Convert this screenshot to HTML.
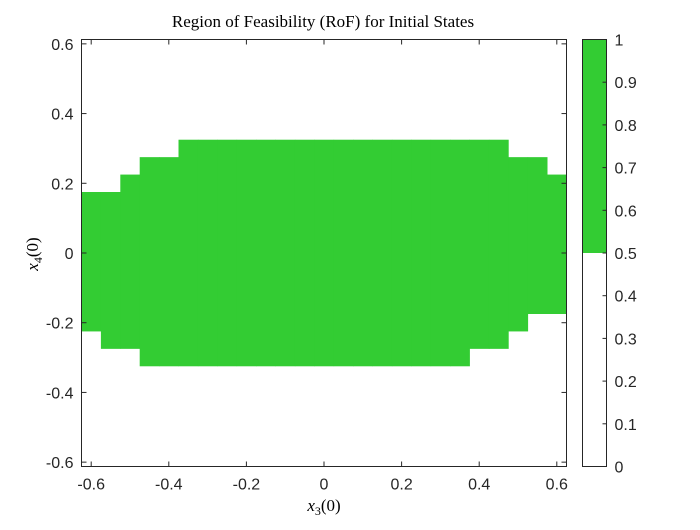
<!DOCTYPE html>
<html><head><meta charset="utf-8"><style>
body{margin:0;background:#fff;}
svg text{font-family:"Liberation Sans",sans-serif;fill:#262626;}
.serif{font-family:"Liberation Serif",serif;fill:#000;}
</style></head><body>
<svg id="chart" width="700" height="525" xmlns="http://www.w3.org/2000/svg">
<rect width="700" height="525" fill="#fff"/>
<g id="cells"></g>
<g id="axes"></g>
<g id="cbar"></g>
<text class="serif" x="323" y="27" font-size="17" text-anchor="middle">Region of Feasibility (RoF) for Initial States</text>
<text class="serif" x="324" y="511" font-size="17" text-anchor="middle" font-style="italic">x<tspan font-size="12" dy="4" font-style="normal">3</tspan><tspan dy="-4" font-style="normal">(0)</tspan></text>
<text class="serif" transform="translate(38,254) rotate(-90)" font-size="17" text-anchor="middle" font-style="italic">x<tspan font-size="12" dy="4" font-style="normal">4</tspan><tspan dy="-4" font-style="normal">(0)</tspan></text>
</svg>
<script>
const colX = [-0.6,-0.55,-0.5,-0.45,-0.4,-0.35,-0.3,-0.25,-0.2,-0.15,-0.1,-0.05,0,0.05,0.1,0.15,0.2,0.25,0.3,0.35,0.4,0.45,0.5,0.55,0.6];
const colTop = [0.175,0.175,0.225,0.275,0.275,0.325,0.325,0.325,0.325,0.325,0.325,0.325,0.325,0.325,0.325,0.325,0.325,0.325,0.325,0.325,0.325,0.325,0.275,0.275,0.225];
const colBottom = [-0.225,-0.275,-0.275,-0.325,-0.325,-0.325,-0.325,-0.325,-0.325,-0.325,-0.325,-0.325,-0.325,-0.325,-0.325,-0.325,-0.325,-0.325,-0.325,-0.325,-0.275,-0.275,-0.225,-0.175,-0.175];
const cellW = 0.05;
const xTicks = [-0.6,-0.4,-0.2,0,0.2,0.4,0.6];
const yTicks = [-0.6,-0.4,-0.2,0,0.2,0.4,0.6];
const cbTicks = [0,0.1,0.2,0.3,0.4,0.5,0.6,0.7,0.8,0.9,1];

const NS="http://www.w3.org/2000/svg";
const L=81.5,R=566.5,T=39.5,B=466.5;
const xmin=-0.625,xmax=0.625,ymin=-0.6125,ymax=0.6125;
const sx=v=>L+(v-xmin)/(xmax-xmin)*(R-L);
const sy=v=>B-(v-ymin)/(ymax-ymin)*(B-T);
function mk(tag,attrs,parent){const e=document.createElementNS(NS,tag);for(const k in attrs)e.setAttribute(k,attrs[k]);parent.appendChild(e);return e;}
const cells=document.getElementById('cells');
colX.forEach((c,i)=>{
  const x0=Math.max(sx(c-cellW/2),L), x1=Math.min(sx(c+cellW/2),R);
  const r=mk('rect',{x:x0,y:sy(colTop[i]),width:x1-x0+0.4,height:sy(colBottom[i])-sy(colTop[i]),fill:'#33cc33'},cells);
  
  
});
const ax=document.getElementById('axes');
mk('rect',{x:L,y:T,width:R-L,height:B-T,fill:'none',stroke:'#262626','stroke-width':1},ax);
xTicks.forEach(v=>{
  const x=sx(v);
  mk('line',{x1:x,x2:x,y1:B,y2:B-5,stroke:'#262626'},ax);
  mk('line',{x1:x,x2:x,y1:T,y2:T+5,stroke:'#262626'},ax);
  const t=mk('text',{x:x,y:B+23,'font-size':16,'text-anchor':'middle'},ax);
  t.textContent=String(v);
  
  
});
yTicks.forEach(v=>{
  const y=sy(v);
  mk('line',{x1:L,x2:L+5,y1:y,y2:y,stroke:'#262626'},ax);
  mk('line',{x1:R,x2:R-5,y1:y,y2:y,stroke:'#262626'},ax);
  const t=mk('text',{x:L-8,y:y+6,'font-size':16,'text-anchor':'end'},ax);
  t.textContent=String(v);
  
  
});
const cb=document.getElementById('cbar');
const CL=582.5,CR=606.5;
const cy=v=>B-v*(B-T);
mk('rect',{x:CL,y:T,width:CR-CL,height:cy(0.5)-T,fill:'#33cc33'},cb);
mk('rect',{x:CL,y:T,width:CR-CL,height:B-T,fill:'none',stroke:'#262626'},cb);
cbTicks.forEach(v=>{
  const y=cy(v);
  mk('line',{x1:CR,x2:CR-4,y1:y,y2:y,stroke:'#262626'},cb);
  const t=mk('text',{x:CR+8,y:y+6,'font-size':16},cb);
  t.textContent=String(v);
  
  
});
</script>
</body></html>
